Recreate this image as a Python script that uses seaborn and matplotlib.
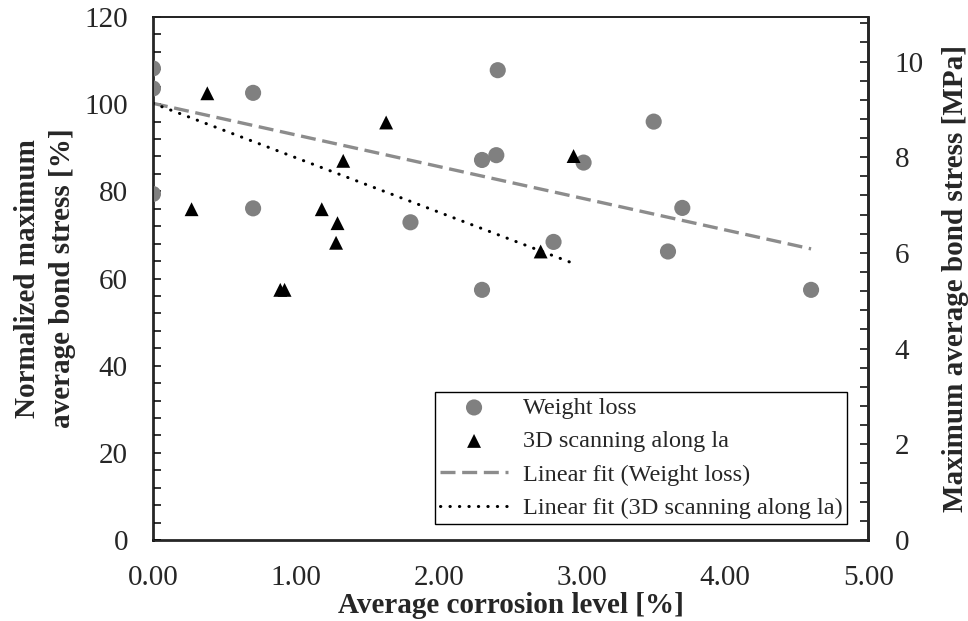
import numpy as np
import pandas as pd
import matplotlib
matplotlib.use("Agg")
import matplotlib.pyplot as plt
import seaborn as sns
from matplotlib.ticker import MultipleLocator, FormatStrFormatter

# ---- data ----
wl_x = [0.00, 0.00, 0.70, 0.00, 0.70, 1.80, 2.41, 2.30, 2.40, 2.30, 2.80, 3.01, 3.50, 3.70, 3.60, 4.60]
wl_y = [108.2, 103.6, 102.6, 79.4, 76.1, 72.9, 107.8, 87.2, 88.3, 57.4, 68.4, 86.6, 96.0, 76.2, 66.2, 57.4]

sc_x = [0.38, 0.27, 1.63, 1.33, 1.18, 1.29, 1.28, 0.89, 0.92, 2.94, 2.71]
sc_y = [102.5, 75.9, 95.8, 87.0, 75.9, 72.7, 68.2, 57.4, 57.4, 88.1, 66.2]

fit_wl_x = [0.0, 4.60]
fit_wl_y = [100.2, 66.8]
fit_sc_x = [0.0, 2.92]
fit_sc_y = [100.2, 63.7]

x_ticks = [0, 1, 2, 3, 4, 5]
y_ticks = [0, 20, 40, 60, 80, 100, 120]
y2_ticks = [0, 2, 4, 6, 8, 10]
y2_max = 10.93

sns.set_style("white")
plt.rcParams['font.family'] = ['Liberation Serif', 'DejaVu Serif']

FS = 21

fig = plt.figure(figsize=(9.68, 6.21), dpi=100)
ax = fig.add_axes([0.158, 0.1304, 0.739, 0.8422])

df_wl = pd.DataFrame({"x": wl_x, "y": wl_y})
df_sc = pd.DataFrame({"x": sc_x, "y": sc_y})
df_fwl = pd.DataFrame({"x": fit_wl_x, "y": fit_wl_y})
df_fsc = pd.DataFrame({"x": fit_sc_x, "y": fit_sc_y})

sns.scatterplot(data=df_wl, x="x", y="y", ax=ax, color="#808080", marker="o",
                s=135, edgecolor="none", label="Weight loss", zorder=3)
sns.scatterplot(data=df_sc, x="x", y="y", ax=ax, color="black", marker="^",
                s=100, edgecolor="none", label="3D scanning along la", zorder=4)
sns.lineplot(data=df_fwl, x="x", y="y", ax=ax, color="#8c8c8c", lw=2.4,
             label="Linear fit (Weight loss)", zorder=2)
ax.lines[-1].set_dashes([4.5, 2])
sns.lineplot(data=df_fsc, x="x", y="y", ax=ax, color="black", lw=2.2,
             label="Linear fit (3D scanning along la)", zorder=2)
ax.lines[-1].set_dashes([0.1, 3.0])
ax.lines[-1].set_dash_capstyle("round")

ax.set_xlim(0, 5)
ax.set_ylim(0, 120)
ax.set_xticks(x_ticks)
ax.set_yticks(y_ticks)
ax.xaxis.set_major_formatter(FormatStrFormatter("%.2f"))
ax.xaxis.set_minor_locator(MultipleLocator(0.2))
ax.yaxis.set_minor_locator(MultipleLocator(4))
ax.tick_params(axis="both", which="both", direction="in", width=1.3, labelsize=FS,
               top=False, right=False)
ax.tick_params(axis="both", which="major", length=6, pad=18)
ax.tick_params(axis="both", which="minor", length=5.5)
ax.set_xlabel("Average corrosion level [%]", fontsize=FS, fontweight="bold", labelpad=1)
ax.set_ylabel("Normalized maximum\naverage bond stress [%]", fontsize=FS,
              fontweight="bold", labelpad=6, linespacing=1.4)
for side in ["left", "bottom", "right"]:
    ax.spines[side].set_linewidth(1.8)
ax.spines["top"].set_linewidth(1.2)
for sp in ax.spines.values():
    sp.set_color("black")

ax2 = ax.twinx()
ax2.set_ylim(0, y2_max)
ax2.set_yticks(y2_ticks)
ax2.yaxis.set_minor_locator(MultipleLocator(0.4))
ax2.tick_params(axis="y", which="both", direction="in", width=1.3, labelsize=FS)
ax2.tick_params(axis="y", which="major", length=6, pad=19)
ax2.tick_params(axis="y", which="minor", length=5.5)
ax2.set_ylabel("Maximum average bond stress [MPa]", fontsize=FS, fontweight="bold",
               labelpad=13)
ax2.spines["right"].set_linewidth(1.8)
ax2.spines["top"].set_linewidth(1.2)

leg = ax.legend(loc="lower right", bbox_to_anchor=(0.9706, 0.0306), fontsize=17.5,
                frameon=True, fancybox=False, framealpha=1, edgecolor="black",
                handlelength=2.8, labelspacing=0.47, borderpad=0.2,
                handletextpad=0.6, borderaxespad=0)
leg.get_frame().set_linewidth(1.0)

fig.savefig("out.png", dpi=100)
